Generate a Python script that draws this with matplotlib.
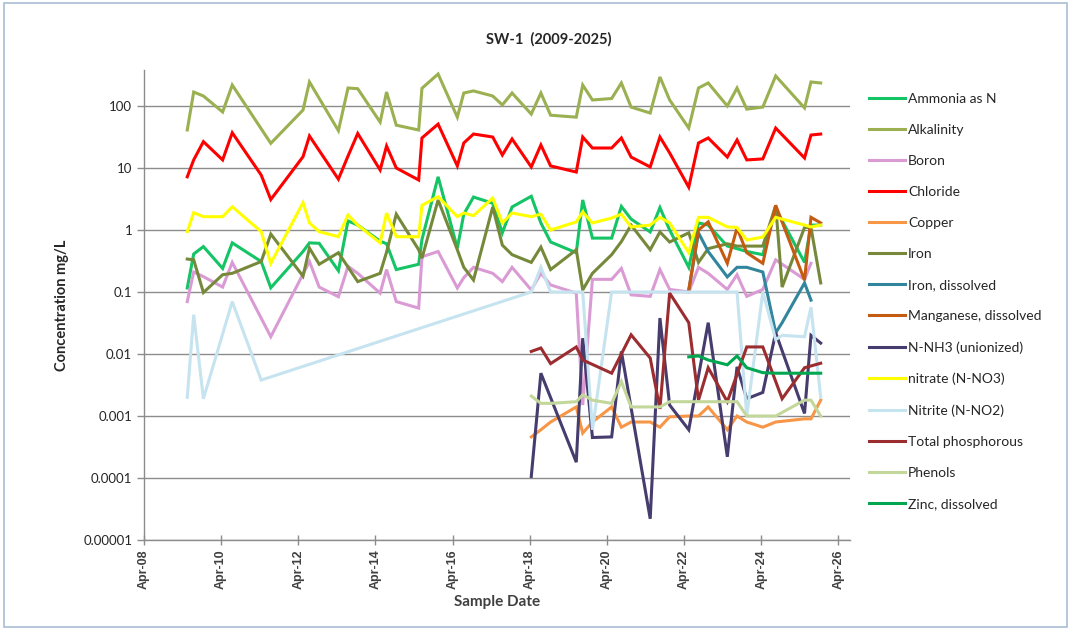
import numpy as np
import pandas as pd
import matplotlib
matplotlib.use("Agg")
import matplotlib.pyplot as plt
import matplotlib.dates as mdates
from matplotlib.ticker import FixedLocator, NullLocator
from matplotlib.patches import Rectangle

plt.rcParams['font.family'] = ['Lato', 'DejaVu Sans']

nan = np.nan

# sample dates (shared by all parameters, NaN = not sampled)
dates = ["2009-05-15", "2009-07-15", "2009-10-15", "2010-04-15", "2010-07-15",
         "2011-04-15", "2011-07-15", "2012-05-15", "2012-07-15", "2012-10-15",
         "2013-04-15", "2013-07-15", "2013-10-15", "2014-05-15", "2014-07-15",
         "2014-10-15", "2015-05-15", "2015-06-15", "2015-11-15", "2016-05-15",
         "2016-07-15", "2016-10-15", "2017-04-15", "2017-07-15", "2017-10-15",
         "2018-04-15", "2018-07-15", "2018-10-15", "2019-06-15", "2019-08-15",
         "2019-11-15", "2020-05-15", "2020-08-15", "2020-11-15", "2021-05-15",
         "2021-08-15", "2021-11-15", "2022-05-15", "2022-08-15", "2022-11-15",
         "2023-05-15", "2023-08-15", "2023-11-15", "2024-04-15", "2024-08-15",
         "2024-10-15", "2025-05-15", "2025-07-15", "2025-10-15"]

ammonia = [0.116, 0.41, 0.54, 0.24, 0.62, 0.31, 0.117, 0.45, 0.62, 0.61,
           0.22, 1.4, 1.2, 0.66, 0.6, 0.23, 0.28, 0.7, 7.2, 0.51,
           1.8, 3.4, 2.7, 0.9, 2.35, 3.5, 1.3, 0.64, 0.43, 3.05,
           0.74, 0.74, 2.4, 1.5, 0.93, 2.3, 1.0, 0.25, 1.3, 1.2,
           0.55, 0.5, 0.45, 0.4, 2.2, nan, 0.3, 1.2, 1.2]
alkalinity = [41, 168, 145, 80, 218, nan, 25, 86, 244, nan,
              40, 195, 190, 55, 168, 49, 41, 193, 328, 66,
              162, 175, 145, 104, 162, 74, 162, 71, 66, 218,
              125, 132, 235, 96, 77, 294, 125, 44, 195, 235,
              100, 195, 89, 96, 305, nan, 93, 244, 235]
boron = [0.07, 0.21, 0.177, 0.12, 0.3, nan, 0.019, nan, 0.31, 0.12,
         0.084, 0.26, 0.2, 0.096, 0.23, 0.07, 0.055, 0.37, 0.45, 0.116,
         0.17, 0.25, 0.2, 0.147, 0.25, 0.108, 0.2, 0.13, 0.096, 0.0015,
         0.16, 0.16, 0.24, 0.09, 0.085, 0.23, 0.11, 0.1, 0.25, 0.2,
         0.11, 0.19, 0.085, 0.11, 0.33, nan, 0.16, 0.29, nan]
chloride = [7.2, 13.5, 26.6, 13.5, 37, 7.7, 3.1, 15.2, 32.8, nan,
            6.6, 15.6, 36, 9.3, 22.6, 10, 6.4, 30.5, 51, 10.8,
            25.3, 35.3, 31.6, 16.2, 29.4, 10.4, 23.5, 10.8, 8.6, 31.6,
            21, 21, 30.5, 15, 10.4, 31.6, 17.5, 4.9, 25.3, 30.5,
            15, 28.3, 13.5, 14, 44, nan, 14.5, 34, 35.3]
copper = [nan] * 25 + [0.00046, 0.0006, 0.0008, 0.0014, 0.00053,
                       0.0008, 0.0014, 0.00066, 0.0008, 0.0008, 0.00066, 0.00097,
                       0.001, 0.001, 0.0014, 0.0006, 0.001, 0.0008, 0.00066,
                       0.0008, nan, 0.0009, 0.0009, 0.0018]
iron = [0.34, 0.33, 0.098, 0.19, 0.2, 0.31, 0.86, 0.18, 0.51, 0.28,
        0.43, nan, 0.147, 0.2, 0.44, 1.8, 0.48, 0.35, 3.05, 0.48,
        0.25, 0.156, 2.35, 0.57, 0.4, 0.3, 0.53, 0.23, 0.48, 0.108,
        0.2, 0.4, 0.65, 1.2, 0.48, 0.93, 0.64, 0.9, 0.3, 0.5,
        0.6, 0.55, 0.55, 0.55, 2.5, 0.12, 1.1, 1.1, 0.14]
iron_diss = [nan] * 37 + [0.107, 0.9, 0.45, 0.175, 0.25, 0.25, 0.21,
                          0.022, 0.032, 0.14, 0.074, nan]
manganese = [nan] * 37 + [0.107, 1.0, 1.35, 0.29, 1.08, 0.43, 0.29,
                          2.5, nan, 0.155, 1.6, 1.3]
nh3 = [nan] * 25 + [0.000106, 0.0049, nan, 0.00018, 0.018,
                    0.00045, 0.00046, 0.011, nan, 0.000022, 0.038, 0.0015,
                    0.0006, nan, 0.032, 0.00022, 0.0062, 0.0019, 0.0024,
                    0.022, nan, 0.0011, 0.02, 0.015]
nitrate = [0.94, 1.9, 1.64, 1.64, 2.37, 0.94, 0.29, 2.76, 1.3, 0.94,
           0.78, 1.75, 1.2, 0.62, 1.88, 0.78, 0.78, 2.5, 3.45, 1.64,
           1.88, 1.7, 3.28, 1.3, 1.88, 1.64, 1.8, 1.0, 1.35, 1.95,
           1.3, 1.56, 1.8, 1.12, 1.2, 1.6, 1.3, 0.43, 1.6, 1.6,
           1.12, 1.1, 0.69, 0.77, 1.6, nan, 1.2, 1.12, 1.2]
nitrite = [0.002, 0.043, 0.0019, nan, 0.07, 0.0038] + [nan] * 19 + \
          [0.1, 0.25, 0.1, 0.1, 0.1, 0.0006, 0.1, 0.1, 0.1, 0.1,
           0.1, 0.1, 0.1, 0.1, 0.1, 0.1, 0.1, 0.001, 0.1, 0.017,
           0.02, 0.019, 0.057, 0.002]
phosphorus = [nan] * 25 + [0.011, 0.0125, 0.007, 0.013, 0.008,
                           nan, 0.0049, nan, 0.0204, 0.0086, 0.0013, 0.096,
                           0.032, 0.0018, 0.006, 0.0017, nan, 0.013, 0.013,
                           nan, 0.0019, 0.006, nan, 0.0071]
phenols = [nan] * 25 + [0.0021, 0.0016, 0.0016, 0.0017, 0.0022,
                        0.0018, 0.0016, 0.0036, 0.0014, 0.0014, 0.0014, 0.0017,
                        0.0017, 0.0017, 0.0017, 0.0017, 0.0017, 0.001, 0.001,
                        0.001, nan, 0.0018, 0.0018, 0.001]
zinc = [nan] * 37 + [0.009, 0.0093, 0.008, 0.0067, 0.0093, 0.006, 0.005,
                     0.0049, nan, 0.0049, 0.0049, 0.0049]

series = [
    ("Ammonia as N", ammonia, "#14C465"),
    ("Alkalinity", alkalinity, "#9BB050"),
    ("Boron", boron, "#DA9BD5"),
    ("Chloride", chloride, "#FF0000"),
    ("Copper", copper, "#F79646"),
    ("Iron", iron, "#76893A"),
    ("Iron, dissolved", iron_diss, "#31859C"),
    ("Manganese, dissolved", manganese, "#C55A11"),
    ("N-NH3 (unionized)", nh3, "#463C6E"),
    ("nitrate (N-NO3)", nitrate, "#FFFF00"),
    ("Nitrite (N-NO2)", nitrite, "#C6E3F0"),
    ("Total phosphorous", phosphorus, "#9B2D30"),
    ("Phenols", phenols, "#C4D79B"),
    ("Zinc, dissolved", zinc, "#00A650"),
]

x_all = pd.to_datetime(dates)

fig = plt.figure(figsize=(10.71, 6.31), dpi=100)
ax = fig.add_axes([0.1345, 0.1442, 0.6592, 0.7448])

for name, vals, col in series:
    v = np.array(vals, dtype=float)
    m = ~np.isnan(v)
    ax.plot(x_all[m], v[m], color=col, lw=2.2, label=name, solid_joinstyle='miter')

ax.set_yscale('log')
ax.set_ylim(1e-5, 380)
yt = [1e-5, 1e-4, 1e-3, 1e-2, 1e-1, 1, 10, 100]
ax.yaxis.set_major_locator(FixedLocator(yt))
ax.yaxis.set_minor_locator(NullLocator())
ax.set_yticklabels(["0.00001", "0.0001", "0.001", "0.01", "0.1", "1", "10", "100"],
                   fontsize=9.5, color='#262626')
ax.grid(axis='y', color='#8C8C8C', lw=1.0)
ax.set_axisbelow(True)

ax.set_xlim(pd.Timestamp("2008-04-01"), pd.Timestamp("2026-07-20"))
xt = [pd.Timestamp(f"{y}-04-01") for y in range(2008, 2027, 2)]
ax.set_xticks(xt)
ax.xaxis.set_major_formatter(mdates.DateFormatter('%b-%y'))
ax.xaxis.set_minor_locator(NullLocator())
for lab in ax.get_xticklabels():
    lab.set_rotation(90)
    lab.set_fontfamily('Liberation Sans')
    lab.set_fontweight('bold')
    lab.set_fontsize(9)
    lab.set_color('#404040')

for s in ['top', 'right']:
    ax.spines[s].set_visible(False)
for s in ['left', 'bottom']:
    ax.spines[s].set_color('#8C8C8C')
    ax.spines[s].set_linewidth(1.0)
ax.tick_params(axis='both', color='#8C8C8C', length=5, width=1.0)
ax.tick_params(axis='x', direction='inout', length=7)

ax.set_ylabel("Concentration mg/L", fontsize=10.5, fontweight='bold', color='#262626', labelpad=10)
ax.set_xlabel("Sample Date", fontsize=11, fontweight='bold', color='#404040', labelpad=4)

fig.text(0.512, 0.938, "SW-1  (2009-2025)", ha='center', va='center',
         fontsize=10.5, fontweight='bold', color='#262626')

leg = ax.legend(loc='upper left', bbox_to_anchor=(869 / 1071, 1 - 93 / 631),
                bbox_transform=fig.transFigure, frameon=False, fontsize=10,
                handlelength=2.6, handletextpad=0.2, labelspacing=1.37,
                borderpad=0, borderaxespad=0)
for t in leg.get_texts():
    t.set_color('#262626')

fig.patches.append(Rectangle((0.004, 0.006), 0.992, 0.99, transform=fig.transFigure,
                             fill=False, edgecolor='#A9BCD6', lw=1.2))

fig.savefig("out.png", dpi=100)
